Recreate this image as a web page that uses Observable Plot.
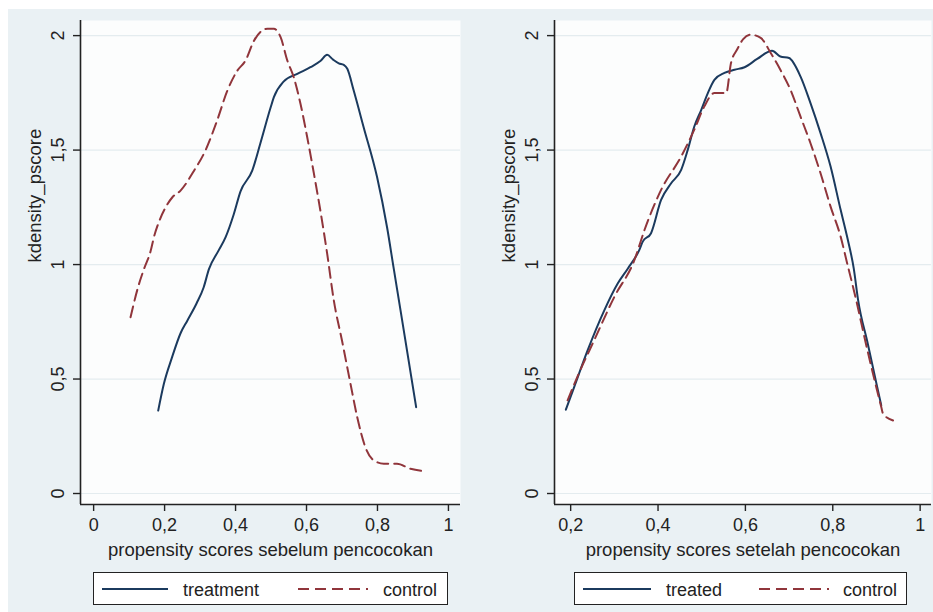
<!DOCTYPE html>
<html>
<head>
<meta charset="utf-8">
<script src="https://cdn.jsdelivr.net/npm/d3@7"></script>
<script src="https://cdn.jsdelivr.net/npm/@observablehq/plot@0.6"></script>
<style>
  body { margin: 0; background: #ffffff; }
  #fig { position: relative; width: 933px; height: 612px; background: #ffffff; overflow: hidden;
         font-family: "Liberation Sans", Arial, Helvetica, sans-serif; }
  #bg { position: absolute; left: 8px; top: 9px; right: 0; bottom: 0; background: #eaf1f4; }
  .panel { position: absolute; top: 0; }
  .legend { position: absolute; top: 572px; height: 33px; border: 1.5px solid #222; background: #ffffff; box-sizing: border-box; }
  .legend svg { position: absolute; left: 0; top: 0; overflow: visible; }
</style>
</head>
<body>
<div id="fig">
  <div id="bg"></div>
  <div id="left" class="panel" style="left:0px"></div>
  <div id="right" class="panel" style="left:466px"></div>
  <div id="legL" class="legend" style="left:93px;width:355px"></div>
  <div id="legR" class="legend" style="left:574px;width:333px"></div>
</div>
<script>
// ---- data ----
const yTicks = [0, 0.5, 1, 1.5, 2];
const xTicksBefore = [0, 0.2, 0.4, 0.6, 0.8, 1];
const xTicksAfter = [0.2, 0.4, 0.6, 0.8, 1];
const yTitle = "kdensity_pscore";
const xTitleBefore = "propensity scores sebelum pencocokan";
const xTitleAfter = "propensity scores setelah pencocokan";
const legendBefore = ["treatment", "control"];
const legendAfter = ["treated", "control"];

const beforeTreatX = [0.182,0.198,0.22,0.245,0.264,0.29,0.31,0.325,0.352,0.372,0.395,0.414,0.447,0.47,0.499,0.508,0.536,0.574,0.611,0.64,0.658,0.675,0.691,0.705,0.715,0.733,0.761,0.799,0.827,0.846,0.865,0.909];
const beforeTreatY = [0.362,0.479,0.59,0.70,0.755,0.83,0.90,0.98,1.061,1.12,1.22,1.32,1.41,1.53,1.687,1.731,1.80,1.833,1.862,1.89,1.916,1.895,1.879,1.872,1.855,1.76,1.60,1.381,1.163,0.981,0.80,0.377];

const beforeCtrlX = [0.104,0.125,0.142,0.161,0.170,0.185,0.203,0.222,0.245,0.283,0.315,0.348,0.377,0.405,0.428,0.452,0.475,0.49,0.508,0.527,0.546,0.564,0.583,0.602,0.621,0.639,0.658,0.677,0.70,0.724,0.743,0.766,0.79,0.818,0.855,0.893,0.935];
const beforeCtrlY = [0.77,0.90,0.981,1.061,1.12,1.19,1.25,1.294,1.323,1.41,1.498,1.629,1.76,1.847,1.891,1.978,2.022,2.03,2.03,1.993,1.891,1.818,1.702,1.556,1.396,1.236,1.05,0.843,0.668,0.479,0.333,0.202,0.144,0.13,0.13,0.108,0.097];

const afterTreatX = [0.189,0.208,0.239,0.277,0.308,0.331,0.357,0.365,0.384,0.407,0.43,0.453,0.468,0.483,0.499,0.514,0.529,0.552,0.575,0.598,0.627,0.661,0.68,0.70,0.726,0.749,0.772,0.795,0.818,0.833,0.848,0.858,0.880,0.90,0.911];
const afterTreatY = [0.366,0.465,0.626,0.80,0.918,0.983,1.063,1.10,1.137,1.282,1.355,1.414,1.501,1.603,1.676,1.749,1.807,1.837,1.851,1.862,1.898,1.934,1.909,1.902,1.822,1.705,1.574,1.428,1.239,1.12,0.983,0.845,0.655,0.48,0.385];

const afterCtrlX = [0.193,0.22,0.254,0.30,0.346,0.369,0.407,0.453,0.483,0.506,0.529,0.556,0.567,0.581,0.595,0.612,0.635,0.658,0.68,0.703,0.726,0.749,0.772,0.795,0.818,0.833,0.85,0.88,0.911,0.915,0.938];
const afterCtrlY = [0.407,0.53,0.67,0.859,1.02,1.151,1.326,1.472,1.589,1.691,1.749,1.749,1.88,1.939,1.985,2.004,1.99,1.924,1.851,1.764,1.647,1.53,1.399,1.253,1.122,1.005,0.874,0.62,0.378,0.349,0.319];

// ---- styles ----
const navy = "#1b3a5e";
const maroon = "#90353b";
const dash = "11,6";
const font = '"Liberation Sans", Arial, Helvetica, sans-serif';
const yDomain = [-0.048, 2.066];

const fmt = d => String(d).replace(".", ",");
const pts = (xs, ys) => xs.map((x, i) => ({x, y: ys[i]}));

function panel({width, marginLeft, marginRight, xDomain, xTicks, xTitle, treat, ctrl}) {
  return Plot.plot({
    width, height: 612,
    marginLeft, marginRight, marginTop: 20, marginBottom: 108,
    style: {background: "transparent", fontFamily: font, fontSize: "18px", color: "#222", overflow: "visible"},
    x: {domain: xDomain},
    y: {domain: yDomain},
    marks: [
      Plot.frame({fill: "#fcfdfd", stroke: null}),
      Plot.gridY(yTicks, {stroke: "#e4ecef", strokeOpacity: 1, strokeWidth: 1.2}),
      Plot.line(treat, {x: "x", y: "y", stroke: navy, strokeWidth: 2, curve: "monotone-x"}),
      Plot.line(ctrl, {x: "x", y: "y", stroke: maroon, strokeWidth: 2, strokeDasharray: dash, curve: "monotone-x"}),
      Plot.axisY(yTicks, {tickSize: 7, tickPadding: 10, tickRotate: -90, tickFormat: fmt, label: null, fontSize: 18, strokeWidth: 1.4}),
      Plot.axisX(xTicks, {tickSize: 7, tickPadding: 7, tickFormat: fmt, label: null, fontSize: 18, strokeWidth: 1.4}),
      Plot.ruleX([xDomain[0]], {stroke: "#222", strokeWidth: 1.6}),
      Plot.ruleY([yDomain[0]], {stroke: "#222", strokeWidth: 1.6}),
      Plot.text([xTitle], {text: d => d, frameAnchor: "bottom", dy: 51, lineAnchor: "bottom", fontSize: 18.5, fill: "#222"}),
      Plot.text([yTitle], {text: d => d, frameAnchor: "left", rotate: -90, dx: -40, lineAnchor: "bottom", fontSize: 18.5, fill: "#222"})
    ]
  });
}

document.getElementById("left").append(panel({
  width: 466, marginLeft: 80, marginRight: 6,
  xDomain: [-0.037, 1.034], xTicks: xTicksBefore, xTitle: xTitleBefore,
  treat: pts(beforeTreatX, beforeTreatY), ctrl: pts(beforeCtrlX, beforeCtrlY)
}));
document.getElementById("right").append(panel({
  width: 467, marginLeft: 88, marginRight: 2,
  xDomain: [0.163, 1.026], xTicks: xTicksAfter, xTitle: xTitleAfter,
  treat: pts(afterTreatX, afterTreatY), ctrl: pts(afterCtrlX, afterCtrlY)
}));

// ---- legends ----
function legend(el, labels, layout) {
  const ns = "http://www.w3.org/2000/svg";
  const svg = document.createElementNS(ns, "svg");
  svg.setAttribute("width", layout.w);
  svg.setAttribute("height", 30);
  const items = [
    {x1: layout.l1[0], x2: layout.l1[1], tx: layout.t1, color: navy, dash: null, label: labels[0]},
    {x1: layout.l2[0], x2: layout.l2[1], tx: layout.t2, color: maroon, dash: dash, label: labels[1]}
  ];
  for (const it of items) {
    const ln = document.createElementNS(ns, "line");
    ln.setAttribute("x1", it.x1); ln.setAttribute("x2", it.x2);
    ln.setAttribute("y1", 16); ln.setAttribute("y2", 16);
    ln.setAttribute("stroke", it.color); ln.setAttribute("stroke-width", 2);
    if (it.dash) ln.setAttribute("stroke-dasharray", it.dash);
    svg.append(ln);
    const t = document.createElementNS(ns, "text");
    t.setAttribute("x", it.tx); t.setAttribute("y", 22.5);
    t.setAttribute("font-size", 18); t.setAttribute("font-family", font); t.setAttribute("fill", "#222");
    t.textContent = it.label;
    svg.append(t);
  }
  el.append(svg);
}
legend(document.getElementById("legL"), legendBefore, {w: 352, l1: [8, 74], t1: 89, l2: [204, 274], t2: 289});
legend(document.getElementById("legR"), legendAfter, {w: 330, l1: [8, 76], t1: 91, l2: [184, 254], t2: 268});
</script>
</body>
</html>
